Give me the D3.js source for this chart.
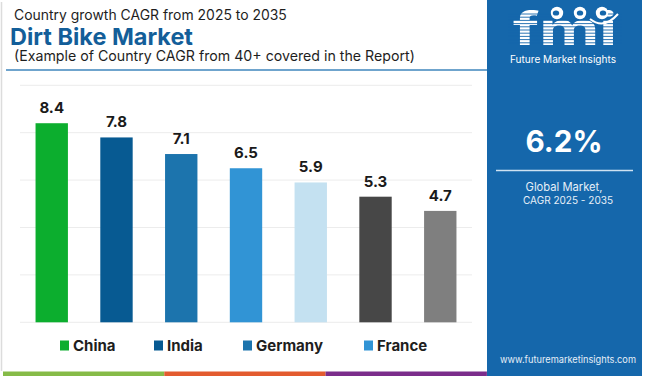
<!DOCTYPE html>
<html>
<head>
<meta charset="utf-8">
<script src="https://cdn.jsdelivr.net/npm/d3@7"></script>
<style>
  html, body { margin: 0; padding: 0; background: #fff; }
  svg { display: block; }
  text { font-family: Inter, "Open Sans", sans-serif; }
</style>
</head>
<body>
<svg id="chart" width="650" height="376"></svg>
<script>
// ---- data ----
const categories = ["China", "India", "Germany", "France", "UK", "USA", "Japan"];
const values = [8.4, 7.8, 7.1, 6.5, 5.9, 5.3, 4.7];
const barColors = ["#0cae2e", "#075a92", "#1c74ad", "#3194d5", "#c4e1f1", "#474747", "#7f7f7f"];
const legendCount = 4;
const gridTicks = [0, 2, 4, 6, 8, 10];
const titleLine1 = "Country growth CAGR from 2025 to 2035";
const titleLine2 = "Dirt Bike Market";
const titleLine3 = "(Example of Country CAGR from 40+ covered in the Report)";
const globalValue = "6.2%";
const globalLabel = ["Global Market,", "CAGR 2025 - 2035"];
const stripeColors = ["#86bb48", "#e35b2f", "#7b2d8b"];

const svg = d3.select("#chart");
const W = 650, H = 376;

// fit font-size so that text reaches a target width
function fitText(sel, target) {
  const n = sel.node();
  const fs = parseFloat(sel.attr("font-size"));
  const w = n.getComputedTextLength();
  if (w > 0) sel.attr("font-size", (fs * target / w).toFixed(2));
  return sel;
}

// frame left border
svg.append("line").attr("x1", 1.5).attr("x2", 1.5).attr("y1", 2).attr("y2", 371)
  .attr("stroke", "#dcdcdc").attr("stroke-width", 1.5);

// ---- titles ----
fitText(svg.append("text").attr("x", 14).attr("y", 19.5).attr("font-size", 15)
  .attr("fill", "#1e1e1e").text(titleLine1), 273);
fitText(svg.append("text").attr("x", 10).attr("y", 45).attr("font-size", 22)
  .attr("font-weight", 700).attr("fill", "#135e99").text(titleLine2), 183);
fitText(svg.append("text").attr("x", 14).attr("y", 61).attr("font-size", 15)
  .attr("fill", "#1e1e1e").text(titleLine3), 401);
svg.append("line").attr("x1", 6).attr("x2", 487).attr("y1", 70).attr("y2", 70)
  .attr("stroke", "#3f86bd").attr("stroke-width", 1.5);

// ---- scales ----
const x = d3.scaleBand().domain(categories).range([20, 472])
  .paddingInner(0.5).paddingOuter(0.24);
const y = d3.scaleLinear().domain([0, 10]).range([322.3, 85.3]);

// grid
svg.append("g").selectAll("line").data(gridTicks).join("line")
  .attr("x1", 20).attr("x2", 472)
  .attr("y1", d => y(d)).attr("y2", d => y(d))
  .attr("stroke", "#ececec").attr("stroke-width", 1);

// bars
svg.append("g").selectAll("rect").data(values).join("rect")
  .attr("x", (d, i) => x(categories[i]))
  .attr("width", x.bandwidth())
  .attr("y", d => y(d))
  .attr("height", d => y(0) - y(d))
  .attr("fill", (d, i) => barColors[i]);

// value labels
svg.append("g").selectAll("text").data(values).join("text")
  .attr("x", (d, i) => x(categories[i]) + x.bandwidth() / 2)
  .attr("y", d => y(d) - 10)
  .attr("text-anchor", "middle")
  .attr("font-size", 15).attr("font-weight", 700).attr("fill", "#1a1a1a")
  .text(d => d.toFixed(1));

// legend
const legendX = [60, 154, 243, 364];
const lg = svg.append("g");
categories.slice(0, legendCount).forEach((c, i) => {
  lg.append("rect").attr("x", legendX[i]).attr("y", 340.5).attr("width", 9).attr("height", 10)
    .attr("fill", barColors[i]);
  lg.append("text").attr("x", legendX[i] + 13).attr("y", 350.5)
    .attr("font-size", 15).attr("font-weight", 700).attr("fill", "#1e1e1e").text(c);
});

// bottom stripes
stripeColors.forEach((c, i) => {
  svg.append("rect").attr("x", 3 + i * 161.3).attr("y", 371.5)
    .attr("width", 161.3).attr("height", 4.5).attr("fill", c);
});

// ---- right panel ----
svg.append("rect").attr("x", 487).attr("y", 0).attr("width", 155).attr("height", H)
  .attr("fill", "#1567ab");

// logo
const logo = svg.append("g");
logo.append("text").attr("x", 513).attr("y", 45)
  .attr("font-family", "'DejaVu Serif', serif").attr("font-weight", 700)
  .attr("font-size", 45).attr("fill", "#ffffff")
  .attr("textLength", 104).attr("lengthAdjust", "spacingAndGlyphs").text("fmi");
// stripes across logo letters
for (let yy = 14; yy < 46; yy += 3.2) {
  logo.append("line").attr("x1", 508).attr("x2", 622).attr("y1", yy).attr("y2", yy)
    .attr("stroke", "#1567ab").attr("stroke-width", 0.9);
}
// globe icons
[557, 580, 602].forEach((cx, i) => {
  logo.append("circle").attr("cx", cx).attr("cy", 13).attr("r", 6.2).attr("fill", "#ffffff");
  logo.append("ellipse").attr("cx", cx + (i - 1)).attr("cy", 13).attr("rx", 3.2).attr("ry", 2.6)
    .attr("fill", "#1567ab");
});
logo.append("path").attr("d", "M590,19 Q604,30 618,14").attr("fill", "none")
  .attr("stroke", "#ffffff").attr("stroke-width", 2);
fitText(logo.append("text").attr("x", 563).attr("y", 63).attr("text-anchor", "middle")
  .attr("font-size", 10).attr("fill", "#ffffff").text("Future Market Insights"), 106);

// global value
fitText(svg.append("text").attr("x", 564).attr("y", 152).attr("text-anchor", "middle")
  .attr("font-size", 31).attr("font-weight", 700).attr("fill", "#ffffff").text(globalValue), 77);
svg.append("line").attr("x1", 496).attr("x2", 633).attr("y1", 170.5).attr("y2", 170.5)
  .attr("stroke", "#cfe2f2").attr("stroke-width", 1.5);
fitText(svg.append("text").attr("x", 564).attr("y", 191).attr("text-anchor", "middle")
  .attr("font-size", 12).attr("fill", "#e6eff8").text(globalLabel[0]), 77);
fitText(svg.append("text").attr("x", 568).attr("y", 204).attr("text-anchor", "middle")
  .attr("font-size", 12).attr("fill", "#e6eff8").text(globalLabel[1]), 90);

// url
fitText(svg.append("text").attr("x", 568).attr("y", 363).attr("text-anchor", "middle")
  .attr("font-size", 10).attr("fill", "#e6eff8").text("www.futuremarketinsights.com"), 136);
</script>
</body>
</html>
